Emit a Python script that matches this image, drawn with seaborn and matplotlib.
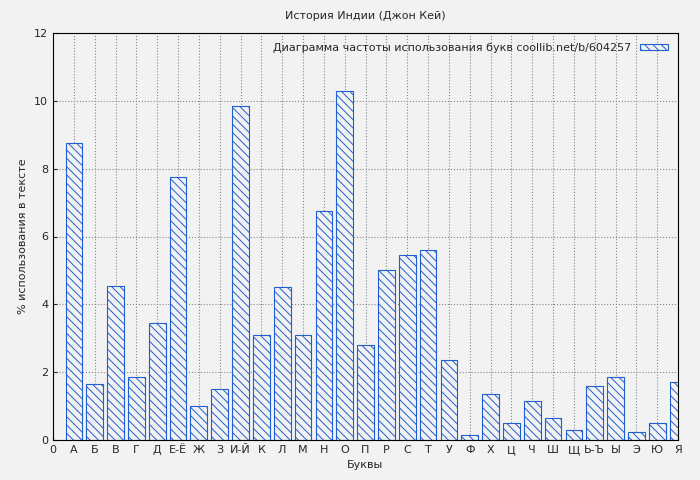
import matplotlib
matplotlib.use("Agg")
import matplotlib.pyplot as plt
import seaborn as sns
import pandas as pd

letters = ["А","Б","В","Г","Д","Е-Ё","Ж","З","И-Й","К","Л","М","Н","О","П","Р","С","Т","У","Ф","Х","Ц","Ч","Ш","Щ","Ь-Ъ","Ы","Э","Ю","Я"]
values = [8.75,1.65,4.55,1.85,3.45,7.75,1.0,1.5,9.85,3.1,4.5,3.1,6.75,10.3,2.8,5.0,5.45,5.6,2.35,0.15,1.35,0.5,1.15,0.65,0.3,1.6,1.85,0.25,0.5,1.7]
positions = list(range(1, len(letters) + 1))

sns.set_style("ticks")
plt.rcParams['font.family'] = ['DejaVu Sans']
plt.rcParams['hatch.color'] = '#1f5fd0'
plt.rcParams['hatch.linewidth'] = 0.7

df = pd.DataFrame({"pos": positions, "val": values})
fig = plt.figure(figsize=(7, 4.8), dpi=100, facecolor='#f2f2f2')
ax = fig.add_axes([53/700, 40/480, 625/700, 407/480])
ax.set_facecolor('#f2f2f2')
sns.barplot(data=df, x="pos", y="val", native_scale=True, width=0.8,
            color='#f2f2f2', edgecolor='#1f5fd0', linewidth=0.8, hatch='\\\\\\\\',
            ax=ax, label="Диаграмма частоты использования букв coollib.net/b/604257")
ax.set_xlim(0, 30)
ax.set_ylim(0, 12)
ax.set_xticks([0] + positions)
ax.set_xticklabels(["0"] + letters, fontsize=8)
ax.set_yticks(range(0, 13, 2))
ax.tick_params(labelsize=8, direction='in', length=3)
ax.grid(True, linestyle=':', color='#888888', linewidth=0.8)
ax.set_axisbelow(True)
ax.set_xlabel("Буквы", fontsize=8)
ax.set_ylabel("% использования в тексте", fontsize=8)
ax.set_title("История Индии (Джон Кей)", fontsize=8, pad=10)
for s in ax.spines.values():
    s.set_color('black')
leg = ax.legend(loc='upper right', fontsize=8, frameon=False, markerfirst=False,
                handlelength=2.5, handleheight=0.4)
fig.savefig("out.png", dpi=100, facecolor='#f2f2f2')
